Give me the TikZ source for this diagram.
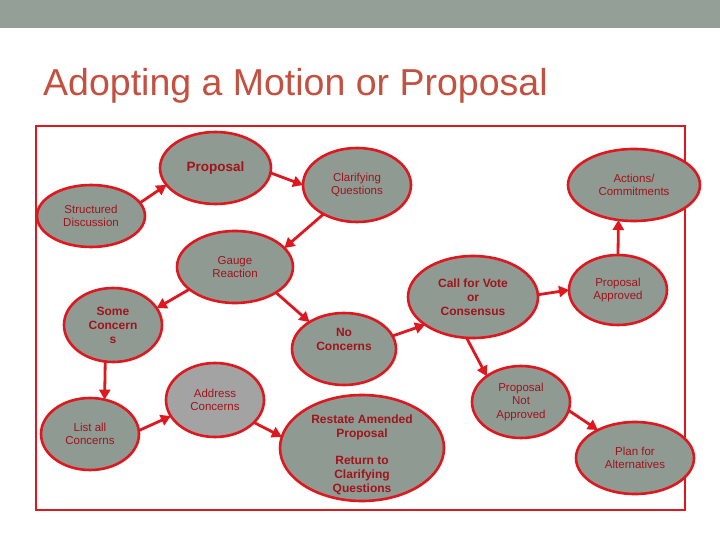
\documentclass[tikz,border=0pt]{standalone}
\usepackage{fontspec}
\setmainfont{Liberation Sans}
\usetikzlibrary{shapes.geometric,arrows.meta}
\definecolor{banner}{RGB}{147,159,151}
\definecolor{titlecol}{RGB}{196,80,64}
\definecolor{frame}{RGB}{222,24,30}
\definecolor{bfill}{RGB}{143,154,147}
\definecolor{afill}{RGB}{163,163,163}
\definecolor{txt}{RGB}{160,20,26}
\newcommand{\shiftedtext}[3]{\makebox[0pt]{\raisebox{#1}[0pt][0pt]{\parbox{#2}{\centering #3}}}}
\tikzset{
  bub/.style={ellipse, draw=frame, line width=2.6pt, fill=bfill, inner sep=0pt, outer sep=0pt,
    text=txt, align=center, font=\fontsize{11.5}{13.5}\selectfont},
  bbub/.style={bub, font=\fontsize{12}{14}\selectfont\bfseries},
  conn/.style={draw=frame, line width=2.8pt, -{Triangle[length=10pt,width=11pt]}}
}
\begin{document}
\begin{tikzpicture}[x=1pt,y=-1pt]
\useasboundingbox (0,0) rectangle (720,540);
\fill[white] (0,0) rectangle (720,540);
\fill[banner] (0,0) rectangle (720,28.5);
\node[anchor=base west, inner sep=0pt, text=titlecol, font=\fontsize{37.5}{40}\selectfont] (title) at (43,96) {Adopting a Motion or Proposal};
\draw[frame, line width=2.6pt] (36,126) rectangle (685,510);

\node[bbub, minimum width=111pt, minimum height=72pt, font=\fontsize{13.5}{15}\selectfont\bfseries] (prop) at (215.5,168) {Proposal};
\node[bub, minimum width=108pt, minimum height=62pt] (sd) at (91,216) {Structured\\Discussion};
\node[bub, minimum width=116pt, minimum height=72pt] (gauge) at (235,267) {Gauge\\Reaction};
\node[bub, minimum width=108pt, minimum height=74pt] (clar) at (357,185) {Clarifying\\Questions};
\node[bub, minimum width=132pt, minimum height=72pt] (act) at (634,185) {Actions/\\Commitments};
\node[bbub, minimum width=130pt, minimum height=82pt] (vote) at (473,297) {Call for Vote\\or\\Consensus};
\node[bub, minimum width=98pt, minimum height=70pt] (appr) at (618,290) {Proposal\\Approved};
\node[bbub, minimum width=104pt, minimum height=72pt] (nocon) at (344,349) {\shiftedtext{7pt}{90pt}{No\\Concerns}};
\node[bbub, minimum width=98pt, minimum height=74pt] (some) at (113,325) {Some\\Concern\\s};
\node[bub, minimum width=98pt, minimum height=72pt] (list) at (90,434) {List all\\Concerns};
\node[bub, fill=afill, minimum width=98pt, minimum height=74pt] (addr) at (215,400) {Address\\Concerns};
\node[bbub, minimum width=164pt, minimum height=106pt] (rest) at (362,448) {\shiftedtext{-10pt}{150pt}{Restate Amended\\Proposal\\[13pt]Return to\\Clarifying\\Questions}};
\node[bub, minimum width=98pt, minimum height=72pt] (napp) at (521,402) {Proposal\\Not\\Approved};
\node[bub, minimum width=118pt, minimum height=72pt] (plan) at (635,458) {Plan for\\Alternatives};

\draw[conn] (sd.15) -- (prop.199);
\draw[conn] (prop.-5) -- (clar.180);
\draw[conn] (clar.221) -- (gauge.21);
\draw[conn] (gauge.206) -- (some.21);
\draw[conn] (gauge.-32) -- (nocon.142);
\draw[conn] (some.258) -- (list.67);
\draw[conn] (list.4) -- (addr.200);
\draw[conn] (addr.-30) -- (rest.172);
\draw[conn] (nocon.15) -- (vote.210);
\draw[conn] (vote.2) -- (appr.180);
\draw[conn] (appr.90) -- (act.246.6);
\draw[conn] (vote.261) -- (napp.143);
\draw[conn] (napp.-10) -- (plan.143);
\end{tikzpicture}
\end{document}
